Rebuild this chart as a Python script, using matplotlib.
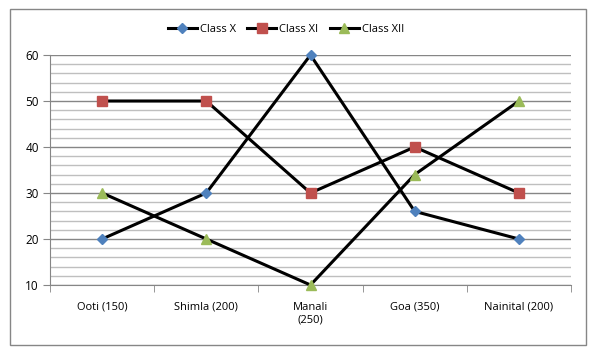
import matplotlib
matplotlib.use("Agg")
import matplotlib.pyplot as plt
from matplotlib.patches import Rectangle

categories = ["Ooti (150)", "Shimla (200)", "Manali\n(250)", "Goa (350)", "Nainital (200)"]
class_x = [20, 30, 60, 26, 20]
class_xi = [50, 50, 30, 40, 30]
class_xii = [30, 20, 10, 34, 50]

plt.rcParams['font.family'] = ['Open Sans', 'DejaVu Sans']

fig = plt.figure(figsize=(5.93, 3.51), dpi=100)
ax = fig.add_axes([50/593, 1 - 285/351, (571-50)/593, (285-55)/351])

# outer frame
fig.patches.append(Rectangle((10/593, 1 - 345/351), 576/593, 336/351, transform=fig.transFigure,
                             fill=False, edgecolor="#868686", linewidth=1.0))

x = list(range(len(categories)))
ax.plot(x, class_x, color="black", lw=2.2, marker="D", ms=5.5, mfc="#4F81BD", mec="#4F81BD", label="Class X", zorder=3, clip_on=False)
ax.plot(x, class_xi, color="black", lw=2.2, marker="s", ms=7, mfc="#C0504D", mec="#C0504D", label="Class XI", zorder=3, clip_on=False)
ax.plot(x, class_xii, color="black", lw=2.2, marker="^", ms=7.5, mfc="#9BBB59", mec="#9BBB59", label="Class XII", zorder=3, clip_on=False)

ax.set_xlim(-0.5, len(categories) - 0.5)
ax.set_ylim(10, 60)
ax.set_yticks(range(10, 61, 10))
ax.set_yticks(range(10, 61, 2), minor=True)
ax.grid(axis="y", which="major", color="#868686", lw=1.0, zorder=0)
ax.grid(axis="y", which="minor", color="#BFBFBF", lw=1.0, zorder=0)

ax.set_xticks(x)
ax.set_xticklabels(categories, fontsize=8)
ax.tick_params(axis="x", length=0, pad=12)
ax.set_xticks([i - 0.5 for i in range(len(categories) + 1)], minor=True)
ax.tick_params(axis="x", which="minor", length=5, color="#868686", direction="out")
ax.tick_params(axis="y", which="major", length=5, color="#868686", labelsize=8.5, pad=3)
ax.tick_params(axis="y", which="minor", length=0)

for s in ["top", "right"]:
    ax.spines[s].set_visible(False)
ax.spines["left"].set_color("#868686")
ax.spines["bottom"].set_color("#868686")

leg = fig.legend(loc="center", bbox_to_anchor=(286/593, 1 - 29/351), ncol=3, frameon=False,
                 fontsize=8, handlelength=2.6, columnspacing=1.0, handletextpad=0.3)

fig.savefig("out.png", dpi=100)
